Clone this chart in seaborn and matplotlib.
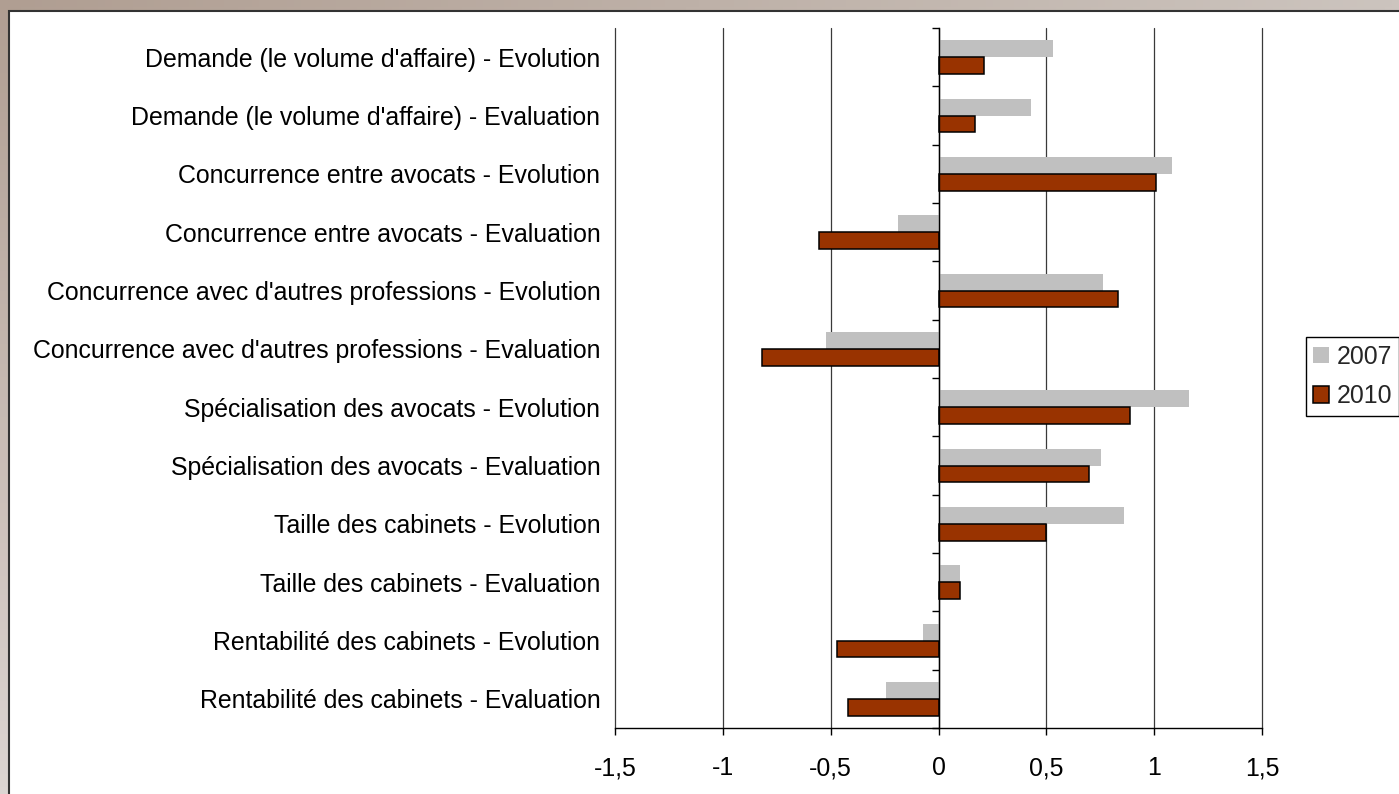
import numpy as np
import pandas as pd
import matplotlib
matplotlib.use("Agg")
import matplotlib.pyplot as plt
import seaborn as sns
from matplotlib.patches import Patch, Rectangle

# ---- data ----
categories = [
    "Demande (le volume d'affaire) - Evolution",
    "Demande (le volume d'affaire) - Evaluation",
    "Concurrence entre avocats - Evolution",
    "Concurrence entre avocats - Evaluation",
    "Concurrence avec d'autres professions - Evolution",
    "Concurrence avec d'autres professions - Evaluation",
    "Spécialisation des avocats - Evolution",
    "Spécialisation des avocats - Evaluation",
    "Taille des cabinets - Evolution",
    "Taille des cabinets - Evaluation",
    "Rentabilité des cabinets - Evolution",
    "Rentabilité des cabinets - Evaluation",
]
values_2007 = [0.53, 0.43, 1.085, -0.19, 0.765, -0.52, 1.16, 0.755, 0.86, 0.10, -0.07, -0.245]
values_2010 = [0.21, 0.17, 1.01, -0.555, 0.83, -0.82, 0.89, 0.70, 0.50, 0.10, -0.47, -0.42]
years = ["2007", "2010"]
x_ticks = [-1.5, -1, -0.5, 0, 0.5, 1, 1.5]
x_tick_labels = ["-1,5", "-1", "-0,5", "0", "0,5", "1", "1,5"]

df = pd.DataFrame({
    "categorie": categories * 2,
    "valeur": values_2007 + values_2010,
    "annee": [years[0]] * len(categories) + [years[1]] * len(categories),
})

sns.set_theme(style="white")
plt.rcParams["font.family"] = ["Liberation Sans", "DejaVu Sans"]

FS = 17.9
W, H = 1399, 794
fig = plt.figure(figsize=(W / 100, H / 100), dpi=100)

# ---- framed background ----
bg = fig.add_axes([0, 0, 1, 1], zorder=-10)
tl = np.array([176, 158, 146]); tr = np.array([204, 196, 190])
bl = np.array([220, 213, 210]); br = np.array([236, 233, 231])
u = np.linspace(0, 1, 200)[None, :, None]
v = np.linspace(0, 1, 120)[:, None, None]
grad = (tl * (1 - u) * (1 - v) + tr * u * (1 - v) + bl * (1 - u) * v + br * u * v) / 255
bg.imshow(grad, aspect="auto", extent=[0, 1, 0, 1], origin="upper")
bg.set_axis_off()

panel = Rectangle((8.5 / W, -0.05), 1.2, (H - 10.5) / H + 0.05,
                  transform=fig.transFigure, facecolor="white",
                  edgecolor="#333333", linewidth=1.5, zorder=-5)
fig.patches.append(panel)

# ---- plot area ----
ax = fig.add_axes([615 / W, 1 - 728 / H, (1262 - 615) / W, 700 / H])
ax.set_facecolor("none")

palette = {"2007": "#C0C0C0", "2010": "#993300"}
sns.barplot(data=df, x="valeur", y="categorie", hue="annee", order=categories,
            hue_order=years, palette=palette, orient="h", width=0.58,
            saturation=1, ax=ax, legend=False, zorder=3)

for bar in ax.containers[0]:
    bar.set_edgecolor("none")
for bar in ax.containers[1]:
    bar.set_edgecolor("black")
    bar.set_linewidth(1.1)

ax.set_xlim(-1.5, 1.5)
ax.set_ylim(len(categories) - 0.5, -0.5)
ax.set_xticks(x_ticks)
ax.set_xticklabels(x_tick_labels, fontsize=FS, color="black")
ax.set_xlabel("")
ax.set_ylabel("")
ax.tick_params(axis="y", length=0, pad=10.5, labelsize=FS, labelcolor="black")
ax.tick_params(axis="x", bottom=True, length=5, width=1, color="black",
               direction="out", pad=15.5)

for s in ["top", "right", "left"]:
    ax.spines[s].set_visible(False)
ax.spines["bottom"].set_color("black")
ax.spines["bottom"].set_linewidth(1)

for xv in x_ticks:
    ax.axvline(xv, color="#3a3a3a", linewidth=0.9, zorder=1, clip_on=False)

# category axis running along zero, ticks between categories
zero_axis = ax.secondary_yaxis(0.5)
zero_axis.set_yticks(np.arange(-0.5, len(categories), 1.0))
zero_axis.set_yticklabels([])
zero_axis.tick_params(length=5, width=1, color="black", direction="in")
for sp in zero_axis.spines.values():
    sp.set_color("black")
    sp.set_linewidth(1)
zero_axis.set_zorder(4)

handles = [Patch(facecolor=palette["2007"], edgecolor="none"),
           Patch(facecolor=palette["2010"], edgecolor="black", linewidth=1.1)]
leg = fig.legend(handles, years, loc="center left",
                 bbox_to_anchor=(1306 / W, 1 - 376.5 / H), fontsize=FS,
                 frameon=True, fancybox=False, framealpha=1, edgecolor="black",
                 handlelength=0.62, handleheight=0.62, handletextpad=0.3,
                 borderpad=0.3, labelspacing=0.62, borderaxespad=0)
leg.get_frame().set_linewidth(1)

fig.savefig("out.png", dpi=100)
